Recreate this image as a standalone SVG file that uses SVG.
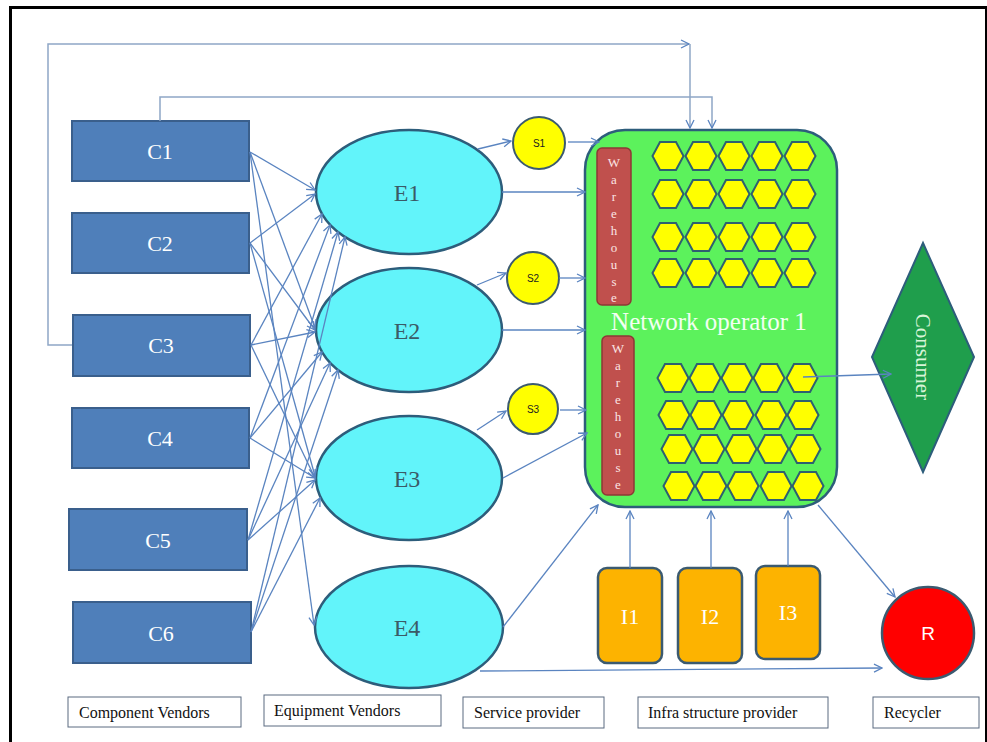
<svg xmlns="http://www.w3.org/2000/svg" xmlns:xlink="http://www.w3.org/1999/xlink" width="987" height="742" viewBox="0 0 987 742">
<style>
.cbox{fill:#4f7fba;stroke:#3a5f8c;stroke-width:2}
.ctxt{fill:#ffffff;font-family:"Liberation Serif",serif;font-size:22px;text-anchor:middle}
.ell{fill:#62f4fa;stroke:#2d5d7b;stroke-width:2.5}
.etxt{fill:#3b5a66;font-family:"Liberation Serif",serif;font-size:24px;text-anchor:middle}
.sc{fill:#ffff00;stroke:#3b5a70;stroke-width:2}
.stxt{fill:#222;font-family:"Liberation Sans",sans-serif;font-size:10px;text-anchor:middle}
.hx{fill:#ffff00;stroke:#2e6070;stroke-width:2}
.wh{fill:#c0504d;stroke:#8c3836;stroke-width:1.5}
.wtxt{fill:#fbe4e4;font-family:"Liberation Serif",serif;font-size:13px;text-anchor:middle}
.ibox{fill:#fdb300;stroke:#3b5a70;stroke-width:2.5}
.itxt{fill:#ffffff;font-family:"Liberation Serif",serif;font-size:22px;text-anchor:middle}
.lab{fill:#ffffff;stroke:#5a6a80;stroke-width:1}
.ltxt{fill:#111;font-family:"Liberation Serif",serif;font-size:16px}
.cn{fill:none;stroke:#5a84c0;stroke-width:1.3}
.fb{fill:none;stroke:#8fa7c6;stroke-width:1.5}
</style>
<defs>
<marker id="a" viewBox="0 0 10 10" refX="9" refY="5" markerWidth="10" markerHeight="10" orient="auto" markerUnits="userSpaceOnUse">
<path d="M1,1 L9,5 L1,9" fill="none" stroke="#5a84c0" stroke-width="1.3"/>
</marker>
<polygon id="hx" points="-15.5,0 -8,-14 8,-14 15.5,0 8,14 -8,14"/>
</defs>
<rect x="0" y="0" width="987" height="742" fill="#ffffff"/>
<rect x="10.5" y="7.5" width="976" height="740" fill="none" stroke="#000" stroke-width="3"/>

<g id="C1"><rect class="cbox" x="72" y="121" width="177" height="60"/><text class="ctxt" x="160" y="159">C1</text></g>
<g id="C2"><rect class="cbox" x="72" y="213" width="177" height="60"/><text class="ctxt" x="160" y="251">C2</text></g>
<g id="C3"><rect class="cbox" x="73" y="315" width="177" height="61"/><text class="ctxt" x="161" y="353">C3</text></g>
<g id="C4"><rect class="cbox" x="72" y="408" width="177" height="60"/><text class="ctxt" x="160" y="446">C4</text></g>
<g id="C5"><rect class="cbox" x="69" y="509" width="178" height="61"/><text class="ctxt" x="158" y="548">C5</text></g>
<g id="C6"><rect class="cbox" x="73" y="602" width="178" height="61"/><text class="ctxt" x="161" y="641">C6</text></g>

<g id="E1"><ellipse class="ell" cx="409" cy="192" rx="93" ry="62"/><text class="etxt" x="407" y="201">E1</text></g>
<g id="E2"><ellipse class="ell" cx="409" cy="330" rx="93" ry="62"/><text class="etxt" x="407" y="339">E2</text></g>
<g id="E3"><ellipse class="ell" cx="409" cy="478" rx="93" ry="62"/><text class="etxt" x="407" y="487">E3</text></g>
<g id="E4"><ellipse class="ell" cx="409" cy="627" rx="94" ry="61"/><text class="etxt" x="407" y="636">E4</text></g>

<g id="S1"><circle class="sc" cx="539" cy="143" r="26"/><text class="stxt" x="539" y="147">S1</text></g>
<g id="S2"><circle class="sc" cx="533" cy="278" r="26"/><text class="stxt" x="533" y="282">S2</text></g>
<g id="S3"><circle class="sc" cx="533" cy="409" r="25"/><text class="stxt" x="533" y="413">S3</text></g>

<g id="network-operator-1">
<rect x="585" y="130" width="252" height="377" rx="40" fill="#5cf25c" stroke="#2d5d7b" stroke-width="2.5"/>
<text x="709" y="330" fill="#f2fff2" font-family="Liberation Serif,serif" font-size="25" text-anchor="middle">Network operator 1</text>
<g id="warehouse-1">
<rect class="wh" x="597" y="148" width="34" height="157" rx="5"/>
<text class="wtxt"><tspan x="614" y="167">W</tspan><tspan x="614" y="184">a</tspan><tspan x="614" y="201">r</tspan><tspan x="614" y="218">e</tspan><tspan x="614" y="235">h</tspan><tspan x="614" y="252">o</tspan><tspan x="614" y="269">u</tspan><tspan x="614" y="286">s</tspan><tspan x="614" y="302">e</tspan></text>
</g>
<g id="warehouse-2">
<rect class="wh" x="602" y="336" width="32" height="159" rx="5"/>
<text class="wtxt"><tspan x="618" y="353">W</tspan><tspan x="618" y="370">a</tspan><tspan x="618" y="387">r</tspan><tspan x="618" y="404">e</tspan><tspan x="618" y="421">h</tspan><tspan x="618" y="438">o</tspan><tspan x="618" y="455">u</tspan><tspan x="618" y="472">s</tspan><tspan x="618" y="489">e</tspan></text>
</g>
<g id="hex-top" class="hx">
<use href="#hx" x="668" y="156"/><use href="#hx" x="701" y="156"/><use href="#hx" x="734" y="156"/><use href="#hx" x="767" y="156"/><use href="#hx" x="800" y="156"/>
<use href="#hx" x="668" y="194"/><use href="#hx" x="701" y="194"/><use href="#hx" x="734" y="194"/><use href="#hx" x="767" y="194"/><use href="#hx" x="800" y="194"/>
<use href="#hx" x="668" y="237"/><use href="#hx" x="701" y="237"/><use href="#hx" x="734" y="237"/><use href="#hx" x="767" y="237"/><use href="#hx" x="800" y="237"/>
<use href="#hx" x="668" y="273"/><use href="#hx" x="701" y="273"/><use href="#hx" x="734" y="273"/><use href="#hx" x="767" y="273"/><use href="#hx" x="800" y="273"/>
</g>
<g id="hex-bottom" class="hx">
<use href="#hx" x="673" y="378"/><use href="#hx" x="705" y="378"/><use href="#hx" x="737" y="378"/><use href="#hx" x="769" y="378"/><use href="#hx" x="802" y="378"/>
<use href="#hx" x="674" y="415"/><use href="#hx" x="706" y="415"/><use href="#hx" x="738" y="415"/><use href="#hx" x="771" y="415"/><use href="#hx" x="803" y="415"/>
<use href="#hx" x="677" y="449"/><use href="#hx" x="709" y="449"/><use href="#hx" x="741" y="449"/><use href="#hx" x="773" y="449"/><use href="#hx" x="805" y="449"/>
<use href="#hx" x="679" y="486"/><use href="#hx" x="711" y="486"/><use href="#hx" x="743" y="486"/><use href="#hx" x="776" y="486"/><use href="#hx" x="808" y="486"/>
</g>
</g>

<g id="consumer">
<polygon points="923,243 974,357 923,472 872,357" fill="#1f9e4c" stroke="#2d5d7b" stroke-width="2"/>
<text x="0" y="0" transform="translate(916,357) rotate(90)" fill="#d8f5d8" font-family="Liberation Serif,serif" font-size="21" text-anchor="middle">Consumer</text>
</g>

<g id="I1"><rect class="ibox" x="598" y="568" width="64" height="95" rx="9"/><text class="itxt" x="630" y="624">I1</text></g>
<g id="I2"><rect class="ibox" x="678" y="568" width="64" height="95" rx="9"/><text class="itxt" x="710" y="624">I2</text></g>
<g id="I3"><rect class="ibox" x="756" y="566" width="64" height="93" rx="9"/><text class="itxt" x="788" y="620">I3</text></g>

<g id="R"><circle cx="928" cy="633" r="46" fill="#ff0000" stroke="#3b5a70" stroke-width="2.5"/><text x="928" y="640" fill="#ffffff" font-family="Liberation Sans,sans-serif" font-size="19" text-anchor="middle">R</text></g>

<g id="label-component-vendors"><rect class="lab" x="68" y="697" width="173" height="30"/><text class="ltxt" x="79" y="718">Component Vendors</text></g>
<g id="label-equipment-vendors"><rect class="lab" x="264" y="695" width="177" height="31"/><text class="ltxt" x="274" y="716">Equipment Vendors</text></g>
<g id="label-service-provider"><rect class="lab" x="463" y="697" width="141" height="31"/><text class="ltxt" x="474" y="718">Service provider</text></g>
<g id="label-infra-structure-provider"><rect class="lab" x="638" y="697" width="190" height="31"/><text class="ltxt" x="648" y="718">Infra structure provider</text></g>
<g id="label-recycler"><rect class="lab" x="873" y="697" width="106" height="31"/><text class="ltxt" x="884" y="718">Recycler</text></g>

<g id="connectors">
<path class="fb" d="M72,345 H48 V44 H689" marker-end="url(#a)"/>
<path class="fb" d="M690,44 V128" marker-end="url(#a)"/>
<path class="fb" d="M160,121 V97 H712 V128" marker-end="url(#a)"/>
<line class="cn" x1="250" y1="152" x2="315" y2="190" marker-end="url(#a)"/>
<line class="cn" x1="250" y1="152" x2="315" y2="328" marker-end="url(#a)"/>
<line class="cn" x1="250" y1="152" x2="314" y2="625" marker-end="url(#a)"/>
<line class="cn" x1="250" y1="243" x2="315" y2="194" marker-end="url(#a)"/>
<line class="cn" x1="250" y1="243" x2="315" y2="330" marker-end="url(#a)"/>
<line class="cn" x1="250" y1="243" x2="315" y2="476" marker-end="url(#a)"/>
<line class="cn" x1="251" y1="345" x2="322" y2="214" marker-end="url(#a)"/>
<line class="cn" x1="251" y1="345" x2="315" y2="332" marker-end="url(#a)"/>
<line class="cn" x1="251" y1="345" x2="315" y2="478" marker-end="url(#a)"/>
<line class="cn" x1="250" y1="438" x2="330" y2="225" marker-end="url(#a)"/>
<line class="cn" x1="250" y1="438" x2="322" y2="352" marker-end="url(#a)"/>
<line class="cn" x1="250" y1="438" x2="315" y2="478" marker-end="url(#a)"/>
<line class="cn" x1="248" y1="540" x2="338" y2="232" marker-end="url(#a)"/>
<line class="cn" x1="248" y1="540" x2="330" y2="363" marker-end="url(#a)"/>
<line class="cn" x1="248" y1="540" x2="315" y2="480" marker-end="url(#a)"/>
<line class="cn" x1="251" y1="632" x2="345" y2="237" marker-end="url(#a)"/>
<line class="cn" x1="251" y1="632" x2="338" y2="370" marker-end="url(#a)"/>
<line class="cn" x1="251" y1="632" x2="320" y2="498" marker-end="url(#a)"/>
<line class="cn" x1="478" y1="149" x2="511" y2="141" marker-end="url(#a)"/>
<line class="cn" x1="568" y1="142" x2="599" y2="142" marker-end="url(#a)"/>
<line class="cn" x1="502" y1="192" x2="585" y2="192" marker-end="url(#a)"/>
<line class="cn" x1="477" y1="285" x2="506" y2="273" marker-end="url(#a)"/>
<line class="cn" x1="559" y1="278" x2="585" y2="278" marker-end="url(#a)"/>
<line class="cn" x1="502" y1="330" x2="585" y2="330" marker-end="url(#a)"/>
<line class="cn" x1="477" y1="430" x2="506" y2="411" marker-end="url(#a)"/>
<line class="cn" x1="560" y1="410" x2="586" y2="410" marker-end="url(#a)"/>
<line class="cn" x1="503" y1="478" x2="587" y2="433" marker-end="url(#a)"/>
<line class="cn" x1="503" y1="627" x2="598" y2="505" marker-end="url(#a)"/>
<line class="cn" x1="480" y1="671" x2="882" y2="668" marker-end="url(#a)"/>
<line class="cn" x1="630" y1="568" x2="630" y2="511" marker-end="url(#a)"/>
<line class="cn" x1="711" y1="568" x2="711" y2="511" marker-end="url(#a)"/>
<line class="cn" x1="788" y1="566" x2="788" y2="511" marker-end="url(#a)"/>
<line class="cn" x1="803" y1="377" x2="891" y2="374" marker-end="url(#a)"/>
<line class="cn" x1="818" y1="505" x2="895" y2="597" marker-end="url(#a)"/>
</g>
</svg>
